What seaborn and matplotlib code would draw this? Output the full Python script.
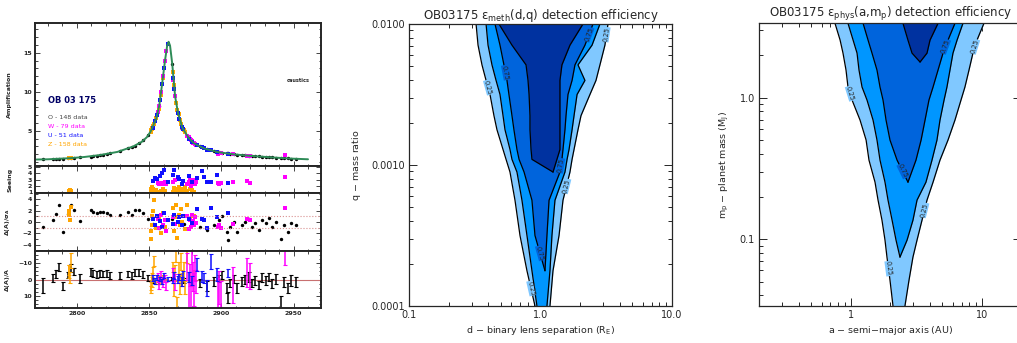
import numpy as np
import matplotlib
matplotlib.use("Agg")
import matplotlib.pyplot as plt
from matplotlib.ticker import MultipleLocator, NullFormatter
import seaborn as sns

# ---------------- light curve data (OB 03 175) ----------------
model_t = [2772, 2780, 2795, 2805, 2816, 2828, 2839, 2845, 2848.5, 2851, 2855, 2857, 2859, 2861,
           2862.5, 2863.5, 2864.5, 2866, 2868, 2870, 2873, 2877, 2881, 2888, 2897, 2908, 2920,
           2935, 2948, 2960]
model_A = [1.33, 1.36, 1.5, 1.65, 1.9, 2.3, 3.0, 3.6, 4.2, 4.9, 6.6, 8.2, 11.0, 14.0,
           15.9, 16.4, 15.9, 13.6, 9.4, 7.3, 5.4, 4.2, 3.4, 2.75, 2.3, 2.0, 1.8,
           1.6, 1.45, 1.36]

O_t = [2776.6, 2783.5, 2785.4, 2787.7, 2790.5, 2793.5, 2795.6, 2797.9, 2802.1, 2809.5,
       2811.3, 2813.7, 2816.0, 2818.3, 2820.6, 2822.9, 2829.9, 2835.6, 2838.0, 2840.3,
       2843.3, 2846.0, 2849.5, 2853.0, 2857.0, 2866.0, 2874.0, 2885.4, 2890.1, 2894.7,
       2898.1, 2900.5, 2904.0, 2904.4, 2906.2, 2908.5, 2910.9, 2914.4, 2916.7, 2919.0,
       2921.3, 2923.6, 2925.9, 2928.3, 2930.6, 2932.8, 2935.2, 2937.5, 2941.5, 2943.3,
       2946.0, 2947.9, 2951.4]
O_A = [1.35, 1.39, 1.40, 1.42, 1.45, 1.48, 1.51, 1.54, 1.60, 1.71,
       1.75, 1.83, 1.90, 1.97, 2.05, 2.13, 2.40, 2.75, 2.9, 3.1,
       3.4, 3.8, 4.5, 5.8, 8.2, 13.6, 5.1, 3.0, 2.65, 2.4,
       2.27, 2.2, 2.1, 2.1, 2.05, 2.0, 1.95, 1.87, 1.85, 1.82,
       1.78, 1.75, 1.72, 1.7, 1.66, 1.63, 1.6, 1.57, 1.53, 1.5,
       1.47, 1.45, 1.42]
O_dsig = [-0.8, 0.35, 1.4, 3.0, -1.7, 1.35, 3.0, 2.1, 0.2, 2.1,
          1.8, 1.5, 1.8, 1.7, 1.6, 1.2, 1.2, 1.7, 1.2, 2.1,
          2.1, 1.5, 0.5, -0.4, -1.1, 0.6, -0.3, -0.8, -1.4, -0.5,
          0.35, 1.05, -1.7, -3.2, -0.8, 0.05, -1.7, -0.5, 0.0, 0.5,
          -0.8, -0.2, -1.4, 0.35, -0.2, 0.65, -0.8, 0.05, -3.0, -0.5,
          -1.7, -0.2, -0.5]
O_err = [4.5, 2.5, 2.4, 2.6, 2.4, 2.0, 2.4, 2.3, 3.0, 2.2,
         2.0, 2.2, 2.0, 2.0, 2.2, 2.0, 2.0, 2.0, 2.0, 2.0,
         2.0, 2.2, 2.0, 1.5, 1.2, 1.0, 1.5, 2.5, 3.0, 2.5,
         2.0, 2.5, 3.0, 3.5, 2.5, 2.5, 3.0, 2.8, 2.5, 3.0,
         2.5, 3.0, 2.5, 2.8, 3.0, 2.5, 3.0, 3.0, 5.0, 3.0,
         3.0, 3.5, 3.0]

W_t = [2856.0, 2857.0, 2858.3, 2859.6, 2861.0, 2862.0, 2866.8, 2868.0, 2876.5, 2877.3,
       2878.0, 2878.8, 2879.5, 2880.2, 2881.0, 2881.8, 2882.5, 2897.5, 2898.5, 2900.0,
       2908.0, 2917.8, 2920.0, 2944.4]
W_A = [7.4, 8.2, 10.0, 12.0, 14.0, 15.2, 11.5, 9.4, 4.35, 4.15,
       3.95, 3.8, 3.65, 3.5, 3.4, 3.3, 3.2, 2.0, 2.1, 2.15,
       2.0, 1.8, 1.78, 1.9]
W_seeing = [2.4, 2.2, 2.5, 2.3, 2.6, 2.2, 2.6, 3.0, 2.2, 2.6,
            2.9, 2.0, 2.4, 3.0, 2.7, 2.3, 2.6, 2.4, 2.3, 2.4,
            2.6, 2.7, 2.5, 3.4]
W_dsig = [0.5, -1.0, 1.2, -0.5, 0.3, -1.5, 0.8, -0.3, 1.0, -1.2,
          0.4, -0.8, 1.3, 0.2, -0.6, 0.9, -0.2, -0.9, -0.5, -1.1,
          -0.3, 0.5, 0.3, 2.5]
W_err = [2.5, 3.0, 2.5, 3.0, 2.0, 2.5, 4.0, 5.0, 8.0, 9.0,
         7.0, 10.0, 8.0, 9.0, 10.0, 8.0, 7.0, 9.0, 10.0, 8.0,
         11.0, 9.0, 8.0, 6.0]

U_t = [2852.5, 2854.0, 2855.6, 2857.6, 2859.0, 2860.4, 2863.0, 2866.7, 2867.5, 2870.1,
       2871.0, 2872.9, 2873.6, 2877.8, 2879.9, 2883.0, 2886.8, 2888.2, 2890.3, 2893.0,
       2897.2, 2904.5]
U_A = [5.4, 6.2, 7.0, 8.9, 11.0, 13.1, 16.1, 11.8, 10.4, 7.3,
       6.5, 5.5, 5.2, 4.0, 3.55, 3.2, 2.9, 2.75, 2.6, 2.5,
       2.3, 2.05]
U_seeing = [2.8, 3.3, 3.1, 3.5, 4.1, 4.5, 2.6, 3.8, 4.6, 3.4,
            3.1, 2.2, 2.8, 3.5, 2.6, 3.2, 4.4, 3.4, 2.6, 2.6,
            3.7, 2.4]
U_dsig = [0.5, -0.5, 1.0, 0.2, -0.8, 1.5, 0.3, -0.3, 1.2, 0.0,
          0.8, -0.5, 1.0, 0.5, -0.2, 2.3, 0.5, 0.3, -1.0, 2.5,
          0.8, 1.6]
U_err = [2.0, 2.0, 1.5, 1.5, 1.5, 1.5, 1.0, 1.5, 2.0, 2.0,
         2.0, 2.5, 2.5, 3.0, 3.0, 4.0, 3.5, 3.0, 5.0, 4.5,
         4.0, 2.5]

Z_t = [2794.3, 2794.8, 2795.2, 2795.6, 2851.0, 2851.4, 2851.8, 2852.3, 2852.8, 2853.5,
       2855.0, 2856.5, 2858.0, 2859.5, 2861.0, 2866.5, 2867.3, 2868.0, 2868.8, 2869.6,
       2870.4, 2871.2, 2872.0, 2873.0, 2874.0, 2875.0, 2876.5, 2878.0, 2879.5, 2881.0]
Z_A = [1.49, 1.50, 1.50, 1.51, 4.9, 5.05, 5.2, 5.4, 5.6, 5.85,
       6.6, 7.8, 9.6, 11.75, 14.0, 12.5, 10.9, 9.4, 8.6, 7.7,
       7.1, 6.4, 5.9, 5.4, 5.1, 4.8, 4.35, 4.0, 3.7, 3.4]
Z_seeing = [1.2, 1.1, 1.3, 1.2, 1.5, 1.0, 1.8, 1.2, 1.4, 1.1,
            1.3, 1.0, 1.2, 1.5, 1.1, 1.0, 1.6, 1.2, 1.4, 1.1,
            1.8, 1.3, 1.0, 1.5, 1.2, 1.7, 1.1, 1.4, 1.3, 1.0]
Z_dsig = [2.0, 1.2, 0.3, 2.6, -3.0, -1.5, 1.0, -0.5, 2.0, 3.8,
          -1.0, 0.5, -2.0, 1.5, -0.8, 2.5, -1.5, 0.8, 3.0, -2.8,
          1.2, -0.5, 2.2, 0.0, 1.0, -1.2, 3.0, 0.5, -0.6, 1.0]
Z_err = [3.0, 4.0, 3.5, 4.5, 2.0, 2.5, 2.0, 3.0, 2.5, 3.0,
         1.5, 1.5, 1.0, 1.0, 1.0, 3.0, 4.0, 5.0, 5.5, 6.0,
         5.0, 6.0, 5.0, 4.0, 5.5, 4.0, 5.0, 3.0, 2.5, 3.0]

legend_lines = ["O - 148 data", "W - 79 data", "U - 51 data", "Z - 158 data"]

# ---------------- detection efficiency contours (log10 units) ----------------
meth_logq = [-2.00, -2.15, -2.29, -2.40, -2.50, -2.65, -2.75, -2.89, -2.96, -3.05,
             -3.25, -3.50, -3.75, -4.00]
meth_025_lo = [-0.490, -0.475, -0.445, -0.414, -0.384, -0.354, -0.331, -0.285, -0.262, -0.232,
               -0.194, -0.156, -0.103, -0.042]
meth_025_hi = [0.513, 0.490, 0.452, 0.422, 0.376, 0.308, 0.285, 0.255, 0.240, 0.224,
               0.171, 0.141, 0.095, 0.072]
meth_050_lo = [-0.414, -0.399, -0.369, -0.338, -0.308, -0.285, -0.270, -0.232, -0.217, -0.179,
               -0.141, -0.103, -0.065, -0.027]
meth_050_hi = [0.452, 0.392, 0.285, 0.338, 0.278, 0.255, 0.240, 0.217, 0.202, 0.186,
               0.110, 0.087, 0.072, 0.049]
meth_075_lo = [-0.346, -0.308, -0.278, -0.255, -0.240, -0.217, -0.202, -0.179, -0.163, -0.125,
               -0.065, -0.042, 0.034]
meth_075_hi = [0.399, 0.338, 0.262, 0.240, 0.209, 0.194, 0.186, 0.171, 0.163, 0.148,
               0.065, 0.049, 0.034]
meth_090_lo = [-0.316, -0.217, -0.110, -0.095, -0.087, -0.080, -0.080, -0.072, -0.065, 0.095]
meth_090_hi = [0.323, 0.224, 0.163, 0.148, 0.148, 0.148, 0.148, 0.148, 0.125, 0.095]

phys_logm = [0.527, 0.408, 0.316, 0.196, 0.076, -0.016, -0.158, -0.299, -0.441, -0.597,
             -0.724, -0.866, -1.007, -1.127, -1.290, -1.473]
phys_025_lo = [-0.120, -0.081, -0.059, -0.036, -0.021, 0.010, 0.071, 0.117, 0.139, 0.185,
               0.208, 0.238, 0.261, 0.276, 0.299, 0.322]
phys_025_hi = [1.015, 0.962, 0.931, 0.901, 0.870, 0.840, 0.794, 0.741, 0.680, 0.627,
               0.581, 0.543, 0.505, 0.474, 0.444, 0.413]
phys_050_lo = [-0.021, 0.018, 0.048, 0.063, 0.086, 0.124, 0.170, 0.200, 0.223, 0.261,
               0.284, 0.315, 0.345, 0.375]
phys_050_hi = [0.855, 0.810, 0.779, 0.756, 0.733, 0.711, 0.680, 0.657, 0.619, 0.573,
               0.505, 0.474, 0.429, 0.375]
phys_075_lo = [0.094, 0.132, 0.162, 0.200, 0.223, 0.246, 0.269, 0.299, 0.353, 0.436]
phys_075_hi = [0.794, 0.741, 0.703, 0.665, 0.627, 0.596, 0.566, 0.536, 0.497, 0.436]
phys_090_logm = [0.527, 0.408, 0.316, 0.253]
phys_090_lo = [0.398, 0.436, 0.467, 0.528]
phys_090_hi = [0.665, 0.604, 0.581, 0.528]

eff_colors = ["#80c8ff", "#0096ff", "#0064dc", "#0032a0"]

# ---------------- style ----------------
sns.set_style("ticks")
plt.rcParams["font.family"] = ["DejaVu Sans"]
plt.rcParams["mathtext.default"] = "regular"

fig = plt.figure(figsize=(10.17, 3.43), dpi=100)
H = 343.0
FW = 1017.0

# ---------------- left: light curve stack ----------------
L, Wd = 35 / FW, 286 / FW
ax_a = fig.add_axes([L, 1 - 166 / H, Wd, 143 / H])
ax_s = fig.add_axes([L, 1 - 193 / H, Wd, 27 / H])
ax_r = fig.add_axes([L, 1 - 251 / H, Wd, 58 / H])
ax_f = fig.add_axes([L, 1 - 308 / H, Wd, 57 / H])

sets = [
    ("O", O_t, O_A, None, O_dsig, O_err, "black"),
    ("Z", Z_t, Z_A, Z_seeing, Z_dsig, Z_err, "#ffa500"),
    ("W", W_t, W_A, W_seeing, W_dsig, W_err, "#ff00ff"),
    ("U", U_t, U_A, U_seeing, U_dsig, U_err, "#1010ff"),
]

sns.lineplot(x=model_t, y=model_A, ax=ax_a, color="#2e8b57", linewidth=1.4,
             estimator=None, sort=False, legend=False)
ax_r.axhline(1, color="#d99090", ls=":", lw=0.8)
ax_r.axhline(-1, color="#d99090", ls=":", lw=0.8)
ax_f.axhline(0, color="#c87070", lw=0.8)

for name, t, A, see, dsig, err, col in sets:
    mk = "o" if name == "O" else "s"
    sns.scatterplot(x=t, y=A, ax=ax_a, color=col, marker=mk, s=6, linewidth=0, legend=False)
    if see is not None:
        sns.scatterplot(x=t, y=see, ax=ax_s, color=col, marker="s", s=8, linewidth=0, legend=False)
    sns.scatterplot(x=t, y=dsig, ax=ax_r, color=col, marker=mk, s=6, linewidth=0, legend=False)
    frac = -np.array(dsig) * np.array(err)
    ax_f.errorbar(t, frac, yerr=err, fmt="none", ecolor=col, elinewidth=1.1, capsize=1.2,
                  capthick=0.8)

ax_a.set_ylim(0.5, 18.8)
ax_a.set_yticks([5, 10, 15])
ax_a.yaxis.set_minor_locator(MultipleLocator(1))
ax_s.set_ylim(0.8, 5.2)
ax_s.set_yticks([1, 2, 3, 4, 5])
ax_r.set_ylim(-5.1, 5.1)
ax_r.set_yticks([-4, -2, 0, 2, 4])
ax_r.yaxis.set_minor_locator(MultipleLocator(1))
ax_f.set_ylim(17.5, -17.5)
ax_f.set_yticks([-10, 0, 10])
ax_f.yaxis.set_minor_locator(MultipleLocator(2.5))

ylabels = ["Amplification", "Seeing", r"$\Delta$(A)/$\sigma_A$", r"$\Delta$(A)/A"]
for ax, lab in zip([ax_a, ax_s, ax_r, ax_f], ylabels):
    ax.set_xlim(2771, 2969)
    ax.set_xticks([2800, 2850, 2900, 2950])
    ax.xaxis.set_minor_locator(MultipleLocator(10))
    ax.tick_params(which="both", direction="in", top=True, right=True, labelsize=4.5,
                   width=0.6, pad=2)
    ax.tick_params(which="major", length=3.5)
    ax.tick_params(which="minor", length=1.8)
    for sp in ax.spines.values():
        sp.set_linewidth(1.4)
    ax.set_ylabel(lab, fontsize=4.5, fontweight="bold")
    ax.yaxis.set_label_coords(-0.08, 0.5)
    ax.set_xlabel("")
    if ax is not ax_f:
        ax.tick_params(labelbottom=False)
    for tl in ax.get_xticklabels() + ax.get_yticklabels():
        tl.set_fontweight("bold")

ax_a.text(0.045, 0.46, "OB 03 175", transform=ax_a.transAxes, color="#000066",
          fontsize=6, fontweight="bold", va="center")
for i, (txt, col) in enumerate(zip(legend_lines, ["#444444", "#ff00ff", "#1010ff", "#ffa500"])):
    ax_a.text(0.045, 0.336 - i * 0.061, txt, transform=ax_a.transAxes, color=col,
              fontsize=4.6, va="center")
ax_a.text(0.88, 0.60, "caustics", transform=ax_a.transAxes, fontsize=3.6,
          fontweight="bold", va="center")


# ---------------- efficiency panels ----------------
def draw_band(ax, yy, lo, hi, col):
    yv = 10 ** np.array(yy)
    ax.fill_betweenx(yv, 10 ** np.array(lo), 10 ** np.array(hi), color=col, lw=0)


def draw_edges(ax, yy, lo, hi):
    yv = 10 ** np.array(yy)
    for xs in (lo, hi):
        sns.lineplot(x=10 ** np.array(xs), y=yv, ax=ax, color="black", linewidth=0.9,
                     estimator=None, sort=False, legend=False)


def clabel(ax, xs, ys, i, text, fc):
    pts = np.column_stack([10 ** np.array(xs[i:i + 2]), 10 ** np.array(ys[i:i + 2])])
    p = ax.transData.transform(pts)
    ang = np.degrees(np.arctan2(p[1, 1] - p[0, 1], p[1, 0] - p[0, 0]))
    if ang > 90:
        ang -= 180
    if ang < -90:
        ang += 180
    xm = 10 ** ((xs[i] + xs[i + 1]) / 2)
    ym = 10 ** ((ys[i] + ys[i + 1]) / 2)
    ax.text(xm, ym, text, rotation=ang, rotation_mode="anchor", ha="center", va="center",
            fontsize=4.8, bbox=dict(fc=fc, ec="none", pad=0.1), zorder=5)


def style_eff(ax):
    ax.set_xscale("log")
    ax.set_yscale("log")
    ax.tick_params(which="both", direction="in", top=True, right=True, labelsize=7,
                   width=0.7, pad=3)
    ax.tick_params(which="major", length=6)
    ax.tick_params(which="minor", length=3)
    ax.xaxis.set_minor_formatter(NullFormatter())
    ax.yaxis.set_minor_formatter(NullFormatter())
    for sp in ax.spines.values():
        sp.set_linewidth(0.9)


ax_m = fig.add_axes([409 / FW, 1 - 306 / H, 263 / FW, 282 / H])
style_eff(ax_m)
ax_m.set_xlim(0.1, 10)
ax_m.set_ylim(1e-4, 1e-2)
n75 = len(meth_075_lo)
n90 = len(meth_090_lo)
draw_band(ax_m, meth_logq, meth_025_lo, meth_025_hi, eff_colors[0])
draw_band(ax_m, meth_logq, meth_050_lo, meth_050_hi, eff_colors[1])
draw_band(ax_m, meth_logq[:n75], meth_075_lo, meth_075_hi, eff_colors[2])
draw_band(ax_m, meth_logq[:n90], meth_090_lo, meth_090_hi, eff_colors[3])
draw_edges(ax_m, meth_logq, meth_025_lo, meth_025_hi)
draw_edges(ax_m, meth_logq, meth_050_lo, meth_050_hi)
draw_edges(ax_m, meth_logq[:n75], meth_075_lo, meth_075_hi)
draw_edges(ax_m, meth_logq[:n90], meth_090_lo, meth_090_hi)
ax_m.set_xlim(0.1, 10)
ax_m.set_ylim(1e-4, 1e-2)
ax_m.set_xticks([0.1, 1, 10])
ax_m.set_xticklabels(["0.1", "1.0", "10.0"])
ax_m.set_yticks([1e-4, 1e-3, 1e-2])
ax_m.set_yticklabels(["0.0001", "0.0010", "0.0100"])
ax_m.set_xlabel(r"d $-$ binary lens separation (R$_E$)", fontsize=6.8, labelpad=3)
ax_m.set_ylabel(r"q $-$ mass ratio", fontsize=6.8, labelpad=6)
ax_m.set_title(r"OB03175 $\epsilon_{meth}$(d,q) detection efficiency", fontsize=8.5, pad=3)
clabel(ax_m, meth_025_lo, meth_logq, 3, "0.25", eff_colors[0])
clabel(ax_m, meth_075_lo, meth_logq, 2, "0.75", eff_colors[2])
clabel(ax_m, meth_075_hi, meth_logq, 0, "0.75", eff_colors[2])
clabel(ax_m, meth_025_hi, meth_logq, 0, "0.25", eff_colors[0])
clabel(ax_m, meth_075_hi, meth_logq, 8, "0.75", eff_colors[2])
clabel(ax_m, meth_025_hi, meth_logq, 9, "0.25", eff_colors[0])
clabel(ax_m, meth_075_lo, meth_logq, 11, "0.75", eff_colors[2])
clabel(ax_m, meth_025_lo, meth_logq, 12, "0.25", eff_colors[0])

ax_p = fig.add_axes([759 / FW, 1 - 306 / H, 262.5 / FW, 282.7 / H])
style_eff(ax_p)
ax_p.set_xlim(0.2, 20)
ax_p.set_ylim(10 ** -1.473, 10 ** 0.527)
n50 = len(phys_050_lo)
n75p = len(phys_075_lo)
draw_band(ax_p, phys_logm, phys_025_lo, phys_025_hi, eff_colors[0])
draw_band(ax_p, phys_logm[:n50], phys_050_lo, phys_050_hi, eff_colors[1])
draw_band(ax_p, phys_logm[:n75p], phys_075_lo, phys_075_hi, eff_colors[2])
draw_band(ax_p, phys_090_logm, phys_090_lo, phys_090_hi, eff_colors[3])
draw_edges(ax_p, phys_logm, phys_025_lo, phys_025_hi)
draw_edges(ax_p, phys_logm[:n50], phys_050_lo, phys_050_hi)
draw_edges(ax_p, phys_logm[:n75p], phys_075_lo, phys_075_hi)
draw_edges(ax_p, phys_090_logm, phys_090_lo, phys_090_hi)
ax_p.set_xlim(0.2, 20)
ax_p.set_ylim(10 ** -1.473, 10 ** 0.527)
ax_p.set_xticks([1, 10])
ax_p.set_xticklabels(["1", "10"])
ax_p.set_yticks([0.1, 1.0])
ax_p.set_yticklabels(["0.1", "1.0"])
ax_p.set_xlabel(r"a $-$ semi$-$major axis (AU)", fontsize=6.8, labelpad=3)
ax_p.set_ylabel(r"m$_p$ $-$ planet mass (M$_J$)", fontsize=6.8, labelpad=6)
ax_p.set_title(r"OB03175 $\epsilon_{phys}$(a,m$_p$) detection efficiency", fontsize=8.5, pad=3)
clabel(ax_p, phys_025_lo, phys_logm, 4, "0.25", eff_colors[0])
clabel(ax_p, phys_075_hi, phys_logm, 1, "0.75", eff_colors[2])
clabel(ax_p, phys_025_hi, phys_logm, 1, "0.25", eff_colors[0])
clabel(ax_p, phys_075_lo, phys_logm, 8, "0.75", eff_colors[2])
clabel(ax_p, phys_025_hi, phys_logm, 10, "0.25", eff_colors[0])
clabel(ax_p, phys_025_lo, phys_logm, 13, "0.25", eff_colors[0])

fig.savefig("out.png", dpi=100)
